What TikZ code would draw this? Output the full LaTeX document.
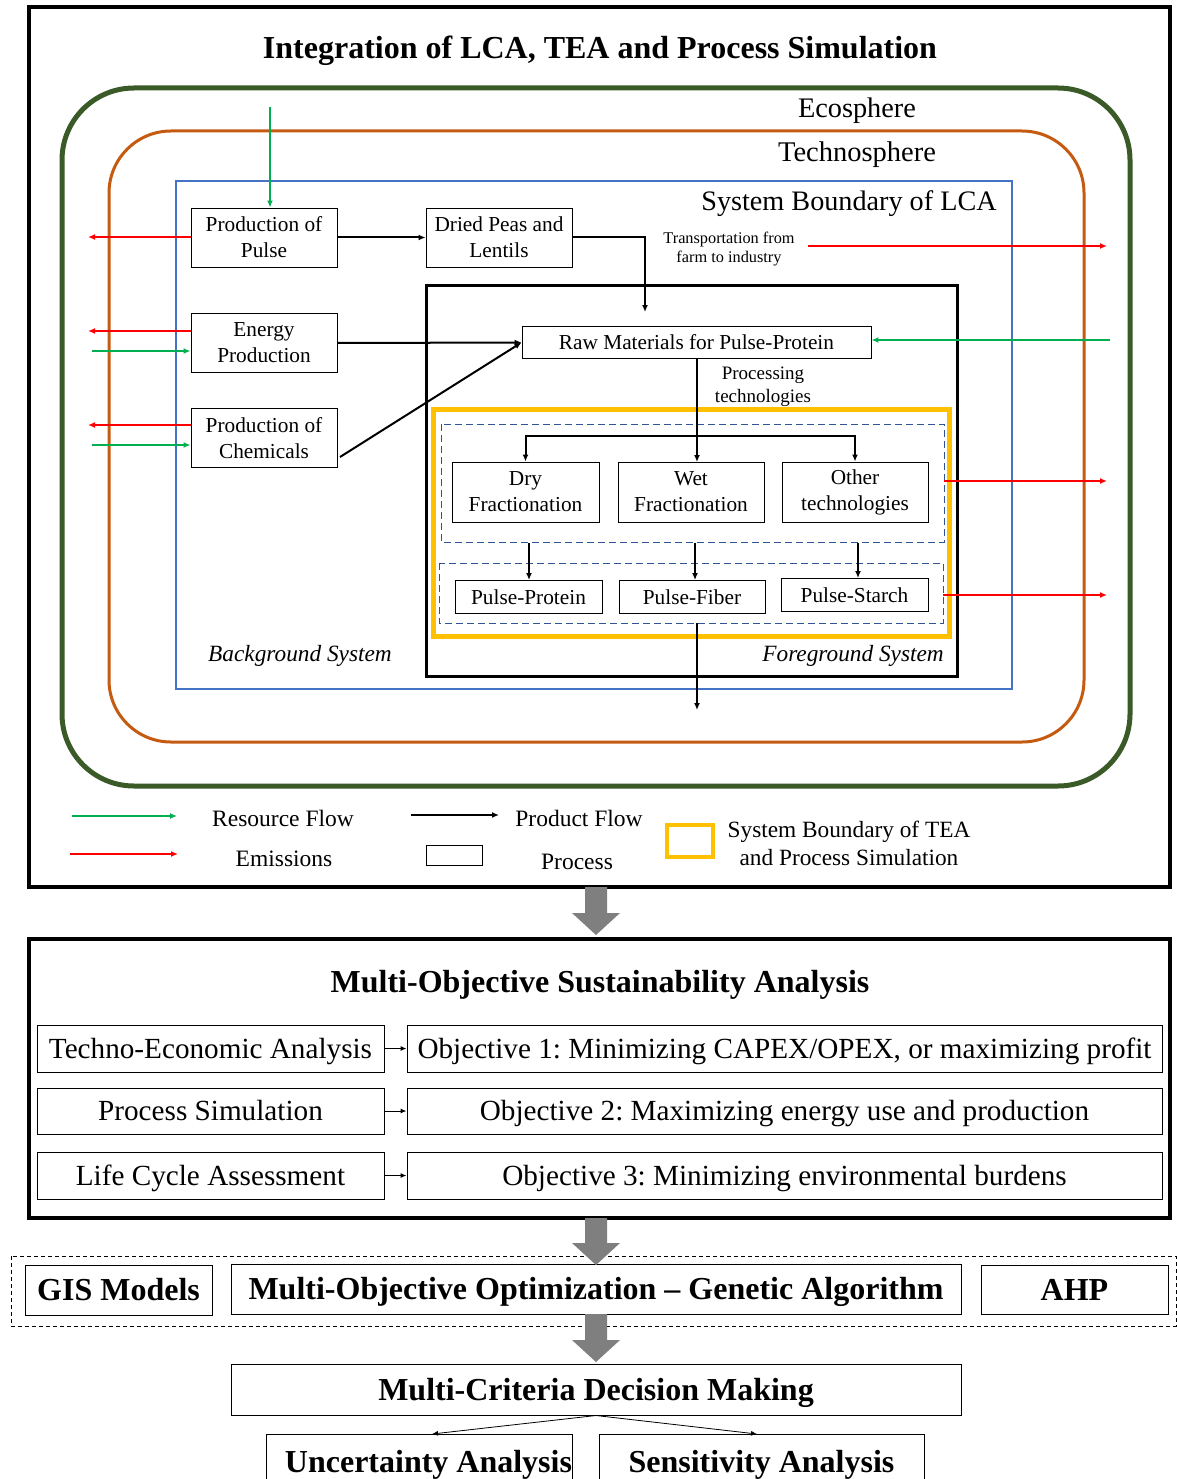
\documentclass[tikz,border=0pt]{standalone}
\usepackage{fontspec}
\setmainfont{Liberation Serif}
\usetikzlibrary{arrows.meta,calc}
\definecolor{resgreen}{HTML}{00B050}
\definecolor{emred}{HTML}{FF0000}
\definecolor{ecogreen}{HTML}{3A5A27}
\definecolor{techorange}{HTML}{C55A11}
\definecolor{lcablue}{HTML}{4472C4}
\definecolor{dashblue}{HTML}{2F5597}
\definecolor{teagold}{HTML}{FFC000}
\definecolor{arrgray}{HTML}{7F7F7F}
\newcommand\fsz[2]{\fontsize{#1}{#2}\selectfont}
\newcommand\garrow[2]{\fill[arrgray] ($(#1)+(-11,0)$) -- ($(#2)+(-11,-22)$) -- ($(#2)+(-24,-22)$) -- (#2) -- ($(#2)+(24,-22)$) -- ($(#2)+(11,-22)$) -- ($(#1)+(11,0)$) -- cycle;}
\begin{document}
\frenchspacing
\begin{tikzpicture}[x=1pt,y=-1pt,
  proc/.style={draw, line width=0.9pt, inner sep=0pt, align=center, font=\fsz{21.3}{26}},
  arr/.style={-{Latex[length=7pt,width=6pt]}, line width=1.6pt},
  emis/.style={arr, draw=emred},
  res/.style={arr, draw=resgreen},
  prodf/.style={arr, draw=black, line width=2pt},
  bigbox/.style={draw, line width=3.5pt, inner sep=0pt},
  mbox/.style={draw, line width=1pt, inner sep=0pt, font=\fsz{29.2}{32}, text height=19.5pt, text depth=0pt},
  bbox/.style={draw, line width=1pt, inner sep=0pt, font=\fsz{32}{36}\bfseries, text height=21pt, text depth=0pt},
  lbl/.style={inner sep=0pt, align=center}
]
\useasboundingbox (0,0) rectangle (1176,1479);
\fill[white] (0,0) rectangle (1176,1479);

% ===== Panel 1 =====
\node[bigbox, minimum width=1141pt, minimum height=880pt] (panel1) at (599.5,447) {};
\node[lbl, font=\fsz{32}{36}\bfseries] (title1) at (600,51) {Integration of LCA, TEA and Process Simulation};

\draw[ecogreen, line width=5pt, rounded corners=72pt] (62,88) rectangle (1130,786);
\node[lbl, font=\fsz{28.3}{32}] (eco) at (857,111) {Ecosphere};
\draw[techorange, line width=3pt, rounded corners=62pt] (109,131) rectangle (1084,742);
\node[lbl, font=\fsz{28.5}{32}] (techno) at (857,155) {Technosphere};
\draw[lcablue, line width=1.2pt] (176,181) rectangle (1012,689);
\node[lbl, font=\fsz{28.2}{32}] (lcalbl) at (849,204) {System Boundary of LCA};

% foreground box
\draw[black, line width=3pt] (426,285) rectangle (957,676);
% TEA boundary
\draw[teagold, line width=5pt] (433,409) rectangle (949,636);
\draw[dashblue, line width=0.9pt, dash pattern=on 7pt off 4pt] (441,424) rectangle (944,542);
\draw[dashblue, line width=0.9pt, dash pattern=on 7pt off 4pt] (439,563) rectangle (943,623);

% process nodes
\node[proc, minimum width=146pt, minimum height=59pt] (pulse) at (264,237.5) {Production of\\Pulse};
\node[proc, minimum width=146pt, minimum height=59pt] (dried) at (499,237.5) {Dried Peas and\\Lentils};
\node[proc, minimum width=146pt, minimum height=59pt] (energy) at (264,343) {Energy\\Production};
\node[proc, minimum width=146pt, minimum height=59pt] (chem) at (264,438) {Production of\\Chemicals};
\node[proc, minimum width=349pt, minimum height=32pt] (raw) at (696.5,342.5) {Raw Materials for Pulse-Protein};
\node[proc, minimum width=147pt, minimum height=60pt] (dry) at (525.5,492) {Dry\\Fractionation};
\node[proc, minimum width=146pt, minimum height=60pt] (wet) at (691,492) {Wet\\Fractionation};
\node[proc, minimum width=146pt, minimum height=60pt] (other) at (855,492) {Other\\technologies};
\node[proc, minimum width=147pt, minimum height=33pt] (pprot) at (528.5,597) {Pulse-Protein};
\node[proc, minimum width=146pt, minimum height=33pt] (pfib) at (692,597) {Pulse-Fiber};
\node[proc, minimum width=147pt, minimum height=33pt] (pstar) at (854.5,595) {Pulse-Starch};

\node[lbl, font=\fsz{16.3}{18.5}] (transp) at (729,249) {Transportation from\\farm to industry};
\node[lbl, font=\fsz{19}{23}] (proctech) at (763,387) {Processing\\technologies};
\node[lbl, font=\fsz{23.3}{26}\itshape] (bgsys) at (300,656) {Background System};
\node[lbl, font=\fsz{23.3}{26}\itshape, anchor=east] (fgsys) at (944,656) {Foreground System};

% free-end coordinates
\coordinate (gtop) at (270,107);
\coordinate (e1) at (88,237);
\coordinate (e2) at (88,331);
\coordinate (g2) at (92,351);
\coordinate (e3) at (88,425);
\coordinate (g3) at (92,445);
\coordinate (trs) at (808,246);
\coordinate (tre) at (1107,246);
\coordinate (grw) at (1110,340);
\coordinate (br) at (697,436);
\coordinate (e4) at (1107,481);
\coordinate (e5) at (1107,595);
\coordinate (outend) at (697,710);

% resource / emission flows
\draw[res] (gtop) -- (gtop |- pulse.north);
\draw[emis] (pulse.west |- e1) -- (e1);
\draw[emis] (pulse.west |- e2) -- (e2);
\draw[res] (g2) -- (energy.west |- g2);
\draw[emis] (chem.west |- e3) -- (e3);
\draw[res] (g3) -- (chem.west |- g3);
\draw[emis] (trs) -- (tre);
\draw[res] (grw) -- (raw.east |- grw);
\draw[emis] (944,481) -- (e4);
\draw[emis] (943,595) -- (e5);

% product flows
\draw[prodf] (pulse.east) -- (dried.west);
\draw[prodf] (dried.east) -| (645,312);
\draw[prodf] (energy.east) -- (raw.west);
\draw[prodf] (340,457) -- (raw.west);
\draw[prodf] (697,358) -- (697,462);
\draw[prodf] (br) -| (dry.north);
\draw[prodf] (br) -| (other.north);
\draw[prodf] (529,543) -- (pprot.north -| 529,0);
\draw[prodf] (695,543) -- (pfib.north -| 695,0);
\draw[prodf] (858,543) -- (pstar.north -| 858,0);
\draw[prodf] (697,623) -- (outend);

% legend
\draw[res] (72,816) -- (177,816);
\node[lbl, font=\fsz{23.5}{26}] (lres) at (283,818) {Resource Flow};
\draw[emis] (70,854) -- (178,854);
\node[lbl, font=\fsz{23.5}{26}] (lem) at (284,859) {Emissions};
\draw[prodf] (411,815) -- (499,815);
\node[lbl, font=\fsz{23.5}{26}] (lprod) at (579,818) {Product Flow};
\node[draw, line width=0.9pt, minimum width=56pt, minimum height=20pt, inner sep=0pt] (lproc) at (454,855) {};
\node[lbl, font=\fsz{23.5}{26}] (lproct) at (577,862) {Process};
\draw[teagold, line width=4.5pt] (667,825) rectangle (713,857);
\node[lbl, font=\fsz{23.3}{28}] (ltea) at (849,843) {System Boundary of TEA\\and Process Simulation};

% ===== Panel 2 =====
\node[bigbox, minimum width=1141pt, minimum height=279pt] (panel2) at (599.5,1078.5) {};
\node[lbl, font=\fsz{32}{36}\bfseries] (title2) at (600,985) {Multi-Objective Sustainability Analysis};
\node[mbox, minimum width=347pt, minimum height=47pt] (tea) at (210.5,1048.5) {Techno-Economic Analysis};
\node[mbox, minimum width=347pt, minimum height=46pt] (psim) at (210.5,1111) {Process Simulation};
\node[mbox, minimum width=347pt, minimum height=47pt] (lcab) at (210.5,1175.5) {Life Cycle Assessment};
\node[mbox, minimum width=755pt, minimum height=47pt] (obj1) at (784.5,1048.5) {Objective 1: Minimizing CAPEX/OPEX, or maximizing profit};
\node[mbox, minimum width=755pt, minimum height=46pt] (obj2) at (784.5,1111) {Objective 2: Maximizing energy use and production};
\node[mbox, minimum width=755pt, minimum height=47pt] (obj3) at (784.5,1175.5) {Objective 3: Minimizing environmental burdens};
\draw[-{Latex[length=6pt,width=5pt]}, line width=1pt] (tea.east) -- (obj1.west);
\draw[-{Latex[length=6pt,width=5pt]}, line width=1pt] (psim.east) -- (obj2.west);
\draw[-{Latex[length=6pt,width=5pt]}, line width=1pt] (lcab.east) -- (obj3.west);

% ===== Bottom =====
\draw[line width=1pt, dash pattern=on 4pt off 3pt] (11,1256) rectangle (1176,1326);
\node[bbox, minimum width=187pt, minimum height=50pt] (gis) at (118.5,1290) {GIS Models};
\node[bbox, minimum width=730pt, minimum height=50pt] (moo) at (596,1289) {Multi-Objective Optimization -- Genetic Algorithm};
\node[bbox, minimum width=187pt, minimum height=49pt] (ahp) at (1074.5,1289.5) {AHP};
\node[bbox, minimum width=730pt, minimum height=51pt] (mcdm) at (596,1389.5) {Multi-Criteria Decision Making};
\node[bbox, minimum width=305pt, minimum height=56pt] (unc) at (419.5,1462) {\hspace*{18pt}Uncertainty Analysis};
\node[bbox, minimum width=325pt, minimum height=56pt] (sens) at (761.5,1462) {Sensitivity Analysis};
\draw[-{Latex[length=6pt,width=5pt]}, line width=0.8pt] (mcdm.south) -- (432,1434);
\draw[-{Latex[length=6pt,width=5pt]}, line width=0.8pt] (mcdm.south) -- (757,1434);

% grey block arrows
\coordinate (ga1s) at (596,887); \coordinate (ga1e) at (596,935);
\coordinate (ga2s) at (596,1218); \coordinate (ga2e) at (596,1265);
\coordinate (ga3s) at (596,1314); \coordinate (ga3e) at (596,1362);
\garrow{ga1s}{ga1e}
\garrow{ga2s}{ga2e}
\garrow{ga3s}{ga3e}
\end{tikzpicture}
\end{document}
